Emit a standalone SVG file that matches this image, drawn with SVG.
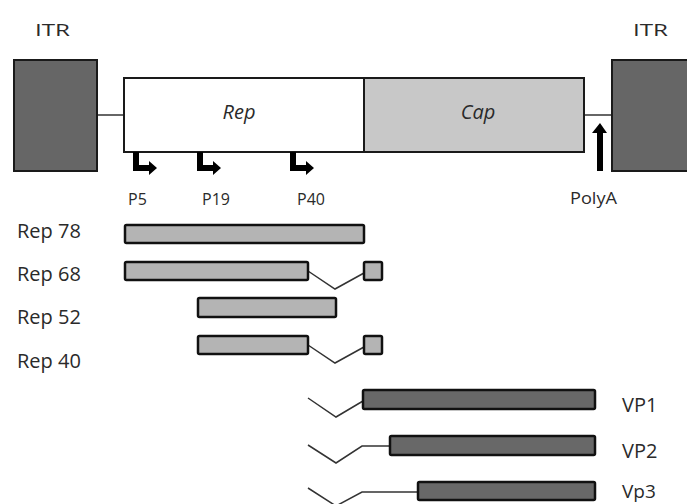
<svg xmlns="http://www.w3.org/2000/svg" width="687" height="504" viewBox="0 0 687 504">
<style>
text{font-family:"Open Sans","DejaVu Sans",sans-serif;fill:#2a2a2a}
.itr{fill:#666;stroke:#1a1a1a;stroke-width:2}
.gene{stroke:#1a1a1a;stroke-width:2}
.rep{fill:#b4b4b4;stroke:#111;stroke-width:2.5}
.vp{fill:#686868;stroke:#111;stroke-width:2.5}
.ln{fill:none;stroke:#333;stroke-width:1.5}
.lbl{font-size:20px}
.pl{font-size:16px}
.prom{fill:#000}
</style>
<g id="connectors">
<line class="ln" x1="97" y1="115" x2="124" y2="115"/>
<line class="ln" x1="584" y1="115" x2="612" y2="115"/>
<polyline class="ln" points="308,271 335,289 364,273"/>
<polyline class="ln" points="308,345 335,363 364,347"/>
<polyline class="ln" points="308,398 336,417 363,401"/>
<polyline class="ln" points="308,445 336,463 362,446 390,446"/>
<polyline class="ln" points="308,488 336,506 362,492 418,492"/>
</g>
<g id="itr-left"><rect class="itr" x="14" y="60" width="83" height="111"/><text x="35" y="36" font-size="16" textLength="35" lengthAdjust="spacingAndGlyphs">ITR</text></g>
<g id="itr-right"><rect class="itr" x="612" y="60" width="80" height="111"/><text x="633" y="36" font-size="16" textLength="35" lengthAdjust="spacingAndGlyphs">ITR</text></g>
<g id="rep-gene"><rect class="gene" x="124" y="78" width="240" height="74" fill="#fff"/><text x="239" y="119" font-size="20" font-style="italic" text-anchor="middle">Rep</text></g>
<g id="cap-gene"><rect class="gene" x="364" y="78" width="220" height="74" fill="#c8c8c8"/><text x="478" y="119" font-size="20" font-style="italic" text-anchor="middle">Cap</text></g>
<g id="p5"><path class="prom" d="M133,152 H139 V165 H149 V161 L157,168 L149,175 V171 H133 Z"/><text class="pl" x="128" y="205">P5</text></g>
<g id="p19"><path class="prom" d="M197,152 H203 V165 H213 V161 L221,168 L213,175 V171 H197 Z"/><text class="pl" x="202" y="205">P19</text></g>
<g id="p40"><path class="prom" d="M290,152 H296 V165 H306 V161 L314,168 L306,175 V171 H290 Z"/><text class="pl" x="297" y="205">P40</text></g>
<g id="polya"><path class="prom" d="M597,171 V133 H592 L600,123 L607,133 H603 V171 Z"/><text class="pl" x="570" y="204" textLength="47" lengthAdjust="spacingAndGlyphs">PolyA</text></g>
<g id="rep78"><text class="lbl" x="17" y="238">Rep 78</text><rect class="rep" x="125" y="225" width="239" height="18" rx="1.5"/></g>
<g id="rep68"><text class="lbl" x="17" y="281">Rep 68</text><rect class="rep" x="125" y="262" width="183" height="18" rx="1.5"/><rect class="rep" x="364" y="262" width="18" height="18" rx="1.5" fill="#8c8c8c"/></g>
<g id="rep52"><text class="lbl" x="17" y="324">Rep 52</text><rect class="rep" x="198" y="298" width="138" height="19" rx="1.5"/></g>
<g id="rep40"><text class="lbl" x="17" y="368">Rep 40</text><rect class="rep" x="198" y="336" width="110" height="18" rx="1.5"/><rect class="rep" x="364" y="336" width="18" height="18" rx="1.5" fill="#8c8c8c"/></g>
<g id="vp1"><rect class="vp" x="363" y="390" width="232" height="19" rx="1.5"/><text class="lbl" x="622" y="412">VP1</text></g>
<g id="vp2"><rect class="vp" x="390" y="436" width="205" height="19" rx="1.5"/><text class="lbl" x="622" y="458">VP2</text></g>
<g id="vp3"><rect class="vp" x="418" y="482" width="177" height="18" rx="1.5"/><text x="622" y="498" font-size="19">Vp3</text></g>
</svg>
